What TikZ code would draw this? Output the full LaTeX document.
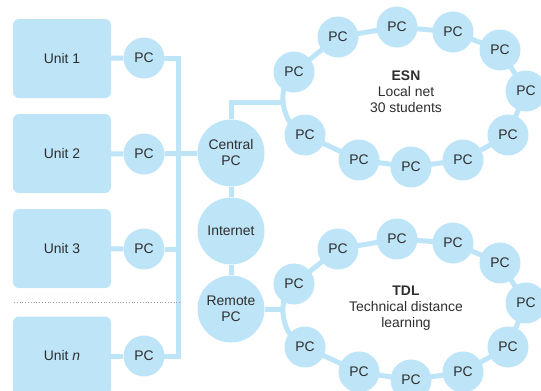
\documentclass[tikz,border=0pt]{standalone}
\usepackage{fontspec}
\setmainfont{Liberation Sans}
\usetikzlibrary{backgrounds}
\definecolor{lb}{HTML}{BEE4F8}
\definecolor{tx}{HTML}{2E2E2E}
\begin{document}
\begin{tikzpicture}[x=1pt,y=-1pt,
  txt/.style={text=tx, font=\fontsize{13.9}{16}\selectfont},
  unitbox/.style={txt, fill=lb, rounded corners=6pt, minimum width=98pt, minimum height=79pt, inner sep=0pt},
  pc/.style={txt, circle, fill=lb, minimum size=41pt, inner sep=0pt},
  bigpc/.style={txt, circle, fill=lb, minimum size=67pt, inner sep=0pt, align=center},
  link/.style={draw=lb, line width=5pt},
  label/.style={txt, align=center}]
\useasboundingbox (0,0) rectangle (541,391);
\clip (0,0) rectangle (541,391);
% units
\node[unitbox] (u1) at (62,58.5) {Unit 1};
\node[unitbox] (u2) at (62,153.5) {Unit 2};
\node[unitbox] (u3) at (62,248.5) {Unit 3};
\node[unitbox] (un) at (62,356) {Unit \textit{n}};
\node[pc] (p1) at (144,58) {PC};
\node[pc] (p2) at (144,154) {PC};
\node[pc] (p3) at (144,249) {PC};
\node[pc] (pn) at (144,356) {PC};
\coordinate (b1) at (178,58);
\coordinate (b3) at (178,249);
\coordinate (bn) at (178,356);
% central column
\node[bigpc] (central) at (231,153) {Central\\PC};
\node[bigpc] (internet) at (231,231) {Internet};
\node[bigpc] (remote) at (231,309) {Remote\\PC};
% ESN ring
\node[pc] (e1) at (294,72) {PC};
\node[pc] (e2) at (338,37) {PC};
\node[pc] (e3) at (397,27) {PC};
\node[pc] (e4) at (453,32) {PC};
\node[pc] (e5) at (500,50) {PC};
\node[pc] (e6) at (526,91) {PC};
\node[pc] (e7) at (508,135) {PC};
\node[pc] (e8) at (463,160) {PC};
\node[pc] (e9) at (411,167) {PC};
\node[pc] (e10) at (359,160) {PC};
\node[pc] (e11) at (305,135) {PC};
\coordinate (ej) at (283,102);
\node[label] (esn) at (406,92) {\textbf{ESN}\\Local net\\30 students};
% TDL ring
\node[pc] (t1) at (294,284) {PC};
\node[pc] (t2) at (338,249) {PC};
\node[pc] (t3) at (397,239) {PC};
\node[pc] (t4) at (453,243) {PC};
\node[pc] (t5) at (500,263) {PC};
\node[pc] (t6) at (526,303) {PC};
\node[pc] (t7) at (508,347) {PC};
\node[pc] (t8) at (463,372) {PC};
\node[pc] (t9) at (411,380) {PC};
\node[pc] (t10) at (359,372) {PC};
\node[pc] (t11) at (305,347) {PC};
\coordinate (tj) at (283,309);
\node[label] (tdl) at (406,308) {\textbf{TDL}\\Technical distance\\learning};
% connectors
\begin{scope}[on background layer]
\draw[link] (u1) -- (p1);
\draw[link] (u2) -- (p2);
\draw[link] (u3) -- (p3);
\draw[link] (un) -- (pn);
\draw[link] (p1.center) -- (b1) -- (bn) -- (pn.center);
\draw[link] (p2) -- (central);
\draw[link] (p3) -- (b3);
\draw[link] (central) -- (internet) -- (remote);
\draw[link] (central) |- (ej);
\draw[link] (remote) -- (tj);
\draw[link] (e1.center) -- (e2.center) -- (e3.center) -- (e4.center) -- (e5.center) -- (e6.center) -- (e7.center) -- (e8.center) -- (e9.center) -- (e10.center) -- (e11.center) .. controls (280,125) and (276,85) .. (e1.center);
\draw[link] (t1.center) -- (t2.center) -- (t3.center) -- (t4.center) -- (t5.center) -- (t6.center) -- (t7.center) -- (t8.center) -- (t9.center) -- (t10.center) -- (t11.center) .. controls (280,337) and (276,297) .. (t1.center);
\end{scope}
\draw[gray!80, dotted, line width=0.8pt] (14,302) -- (182,302);
\end{tikzpicture}
\end{document}
